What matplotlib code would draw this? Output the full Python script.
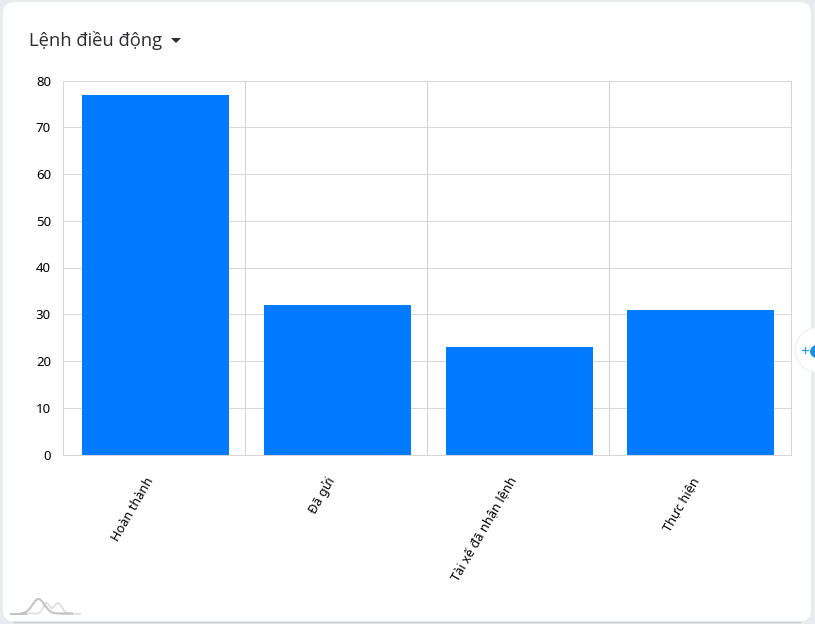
import numpy as np
import matplotlib
matplotlib.use("Agg")
import matplotlib.pyplot as plt
from matplotlib.patches import FancyBboxPatch, Circle, Polygon, Ellipse
from matplotlib.transforms import ScaledTranslation

categories = ["Hoàn thành", "Đã gửi", "Tài xế đã nhận lệnh", "Thực hiện"]
values = [77, 32, 23, 31]
y_ticks = [0, 10, 20, 30, 40, 50, 60, 70, 80]
title = "Lệnh điều động"

W, H = 815, 624
fig = plt.figure(figsize=(W / 100, H / 100), dpi=100, facecolor="#e9ecef")

# decoration layer in pixel coordinates
bg = fig.add_axes([0, 0, 1, 1], zorder=0)
bg.set_xlim(0, W)
bg.set_ylim(H, 0)
bg.axis("off")
bg.plot([13, 800], [622, 622], color="#c9ccd0", lw=1)
bg.add_patch(FancyBboxPatch((3, 2), 808, 619.5,
                            boxstyle="round,pad=0,rounding_size=12",
                            linewidth=0, facecolor="white"))
bg.text(29, 40, title, fontsize=13.2, family="Open Sans", color="#2b2b33",
        va="center", ha="left")
bg.add_patch(Polygon([[171, 38], [181, 38], [176, 43]], closed=True,
                     facecolor="#2b2b33", edgecolor="none"))

# amCharts-like logo
xs = np.linspace(22, 72, 200)
hump1 = 14.5 * np.exp(-((xs - 38.5) / 8.5) ** 2)
hump2 = 10.5 * (np.exp(-((xs - 46.5) / 4.5) ** 2) + np.exp(-((xs - 58) / 5.5) ** 2))
bg.plot([62, 80], [613.5, 613.5], color="#e2e2e2", lw=1.5)
bg.plot(xs, 613.5 - hump2, color="#e2e2e2", lw=1.5)
bg.plot([11, 26], [613.5, 613.5], color="#c4c4c4", lw=1.5)
bg.plot(xs, 613.5 - hump1, color="#c4c4c4", lw=1.5)

# chart
L, R, T, B = 63.5, 791, 80.5, 454.5
ax = fig.add_axes([L / W, 1 - B / H, (R - L) / W, (B - T) / H], zorder=1)
ax.patch.set_alpha(0)
x = np.arange(len(categories))
ax.bar(x + 0.005, values, width=0.808, color="#007bff", edgecolor="none", zorder=3)
ax.set_xlim(-0.5, len(categories) - 0.5)
ax.set_ylim(0, 80)
ax.set_yticks(y_ticks)
ax.set_xticks(x)
ax.set_xticks(x[:-1] + 0.5, minor=True)
ax.set_xticklabels(categories, rotation=60, ha="right", va="center",
                   rotation_mode="anchor", fontsize=9.2,
                   family="Noto Sans", color="black")
ax.tick_params(axis="x", which="both", length=0, pad=17)
ax.tick_params(axis="y", length=0, pad=9, labelsize=9.5, labelcolor="black")
for lab in ax.get_yticklabels():
    lab.set_family("Noto Sans")
shift = ScaledTranslation(-4 / 100, 0, fig.dpi_scale_trans)
for lab in ax.get_xticklabels():
    lab.set_transform(lab.get_transform() + shift)
ax.grid(axis="y", color="#d8d8d8", lw=0.75, zorder=1)
ax.grid(axis="x", which="minor", color="#d2d2d2", lw=0.75, zorder=1)
ax.grid(axis="x", which="major", visible=False)
for s in ax.spines.values():
    s.set_color("#d6d6d6")
    s.set_linewidth(0.75)

# floating widget at right edge
top = fig.add_axes([0, 0, 1, 1], zorder=2)
top.set_xlim(0, W)
top.set_ylim(H, 0)
top.axis("off")
top.patch.set_alpha(0)
top.add_patch(Circle((818, 350), 23, facecolor="#eeeeee", edgecolor="none"))
top.add_patch(Circle((818, 350), 22, facecolor="white", edgecolor="none"))
top.add_patch(Ellipse((819, 351.5), 18, 14, facecolor="#1a8fe3", edgecolor="none"))
top.add_patch(Polygon([[811, 349], [819, 341], [819, 350]], closed=True,
                      facecolor="#1a8fe3", edgecolor="none"))
top.plot([802, 808], [349.5, 349.5], color="#2f9be8", lw=0.9)
top.plot([805, 805], [346.5, 352.5], color="#2f9be8", lw=0.9)

fig.savefig("out.png", dpi=100, facecolor=fig.get_facecolor())
